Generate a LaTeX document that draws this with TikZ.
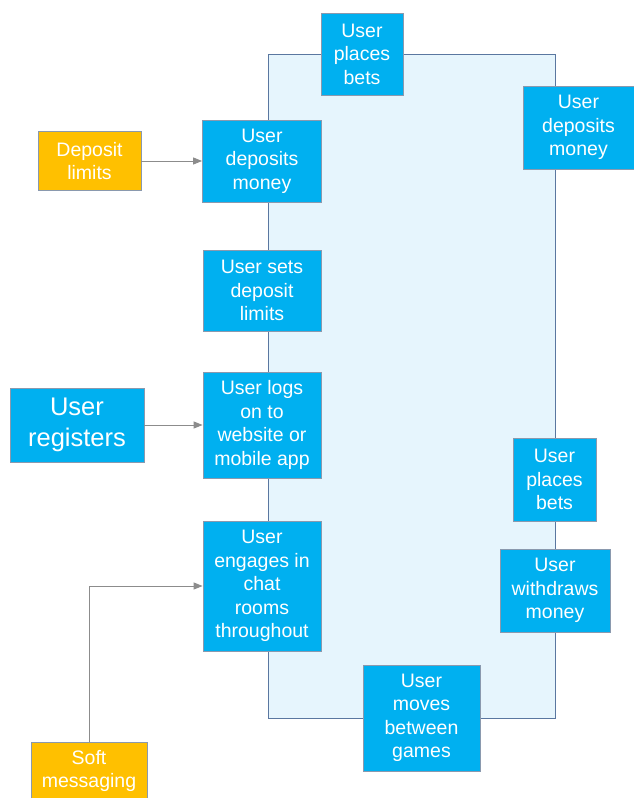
\documentclass[tikz,border=0pt]{standalone}
\usepackage{fontspec}
\setmainfont{Liberation Sans}
\usetikzlibrary{arrows.meta}
\definecolor{stageblue}{HTML}{00B0F0}
\definecolor{stageedge}{HTML}{8A99AE}
\definecolor{lanefill}{HTML}{E6F5FD}
\definecolor{laneedge}{HTML}{5A77A0}
\definecolor{noteorange}{HTML}{FFC000}
\definecolor{linkgray}{HTML}{8C8C8C}
\tikzset{
  stage/.style={draw=stageedge, line width=0.8pt, fill=stageblue, text=white,
    align=center, inner sep=0pt, font=\fontsize{19.5}{23.5}\selectfont},
  note/.style={stage, fill=noteorange},
  lane/.style={draw=laneedge, line width=1pt, fill=lanefill, inner sep=0pt},
  link/.style={draw=linkgray, line width=1pt, -{Triangle[length=9pt,width=7pt]}}
}
\begin{document}
\begin{tikzpicture}[x=1pt, y=-1pt]
    \useasboundingbox (0,0) rectangle (634,798);

    % the journey loop
    \node[lane, minimum width=287, minimum height=664] (loop) at (411.5,386) {};

    \node[stage, minimum width=82, minimum height=82] (betsTop) at (362,54) {User\\places\\bets};
    \node[stage, minimum width=111, minimum height=83] (depR) at (578.5,127.5) {User\\deposits\\money};
    \node[stage, minimum width=119, minimum height=82] (depL) at (262,161) {User\\deposits\\money};
    \node[stage, minimum width=118, minimum height=81] (setLim) at (262,290.5) {User sets\\deposit\\limits};
    \node[stage, minimum width=118, minimum height=106] (logon) at (262,425) {User logs\\on to\\website or\\mobile app};
    \node[stage, minimum width=118, minimum height=130] (chat) at (262,586) {User\\engages in\\chat\\rooms\\throughout};
    \node[stage, minimum width=83, minimum height=83] (betsR) at (554.5,479.5) {User\\places\\bets};
    \node[stage, minimum width=110, minimum height=83] (withdraw) at (555,590.5) {User\\withdraws\\money};
    \node[stage, minimum width=117, minimum height=106] (games) at (421.5,718) {User\\moves\\between\\games};

    % outside the loop
    \node[note, minimum width=103, minimum height=59] (limits) at (89.5,161) {Deposit\\limits};
    \node[stage, minimum width=134, minimum height=74, font=\fontsize{25.5}{31}\selectfont] (reg) at (77,425) {User\\registers};
    \node[note, minimum width=116, minimum height=58] (soft) at (89,771) {Soft\\messaging};

    \path[link] (limits) -- (depL);
    \path[link] (reg) -- (logon);
    \path[link] (soft.north) |- (chat.west);
\end{tikzpicture}
\end{document}
